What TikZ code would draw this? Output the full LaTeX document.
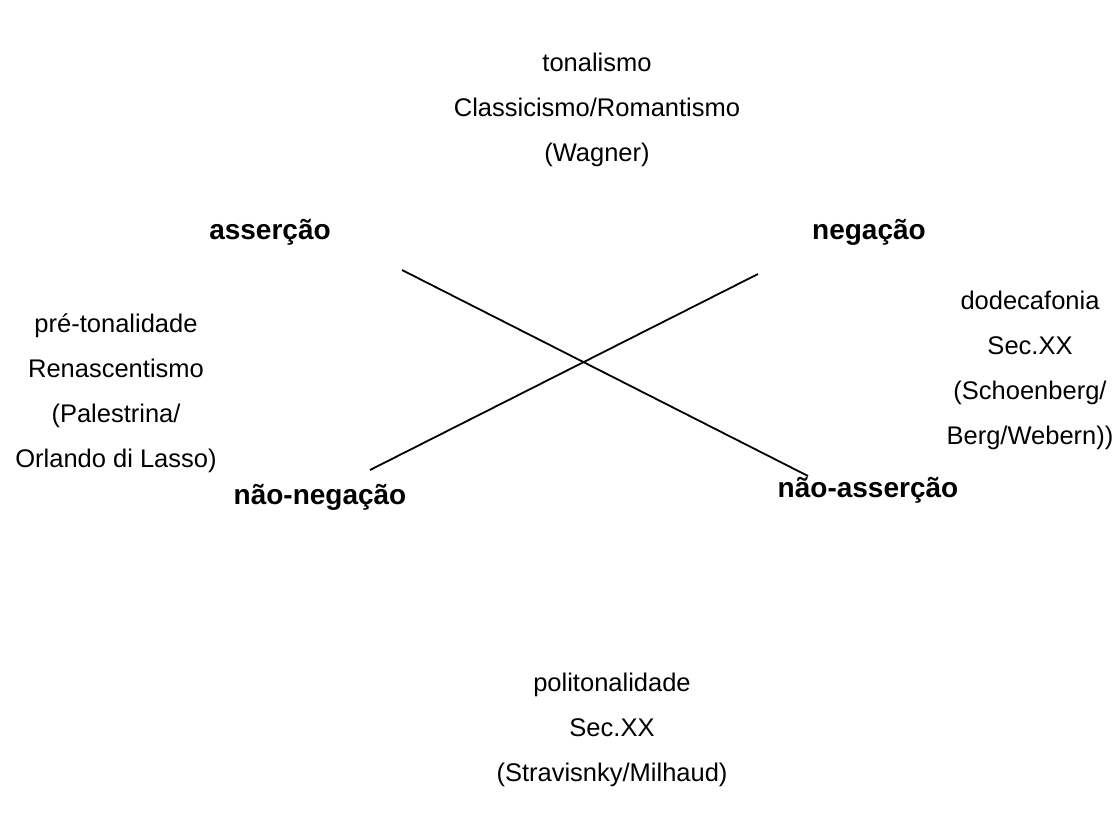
\documentclass[tikz,border=0pt]{standalone}
\usepackage{fontspec}
\setmainfont{Liberation Sans}
\usetikzlibrary{positioning}

\tikzset{
  era/.style={align=center, font=\fontsize{25.5}{45}\selectfont, inner sep=0pt},
  pole/.style={font=\fontsize{28}{32}\selectfont\bfseries, inner sep=0pt},
  cross/.style={line width=1.8pt}
}

\begin{document}
\begin{tikzpicture}[x=1pt, y=-1pt]
                \useasboundingbox (0,0) rectangle (1113,817);

                % top: tonalismo
                \node[era] (tonal) at (597, 110) {tonalismo\\Classicismo/Romantismo\\(Wagner)};

                % poles of the square
                \node[pole] (assercao) at (270, 232) {asserção};
                \node[pole] (negacao) at (869, 232) {negação};
                \node[pole] (naoneg) at (320, 497) {não-negação};
                \node[pole] (naoass) at (868, 490) {não-asserção};

                % side blocks
                \node[era] (pretonal) at (116, 393) {pré-tonalidade\\Renascentismo\\(Palestrina/\\Orlando di Lasso)};
                \node[era] (dodeca) at (1030, 370) {dodecafonia\\Sec.XX\\(Schoenberg/\\Berg/Webern))};

                % bottom: politonalidade
                \node[era] (polit) at (612, 730) {politonalidade\\Sec.XX\\(Stravisnky/Milhaud)};

                % the cross
                \coordinate (ul) at (402, 270);
                \coordinate (lr) at (808, 476);
                \coordinate (ur) at (758, 274);
                \coordinate (ll) at (370, 470);
                \draw[cross] (ul) -- (lr);
                \draw[cross] (ur) -- (ll);
\end{tikzpicture}
\end{document}
